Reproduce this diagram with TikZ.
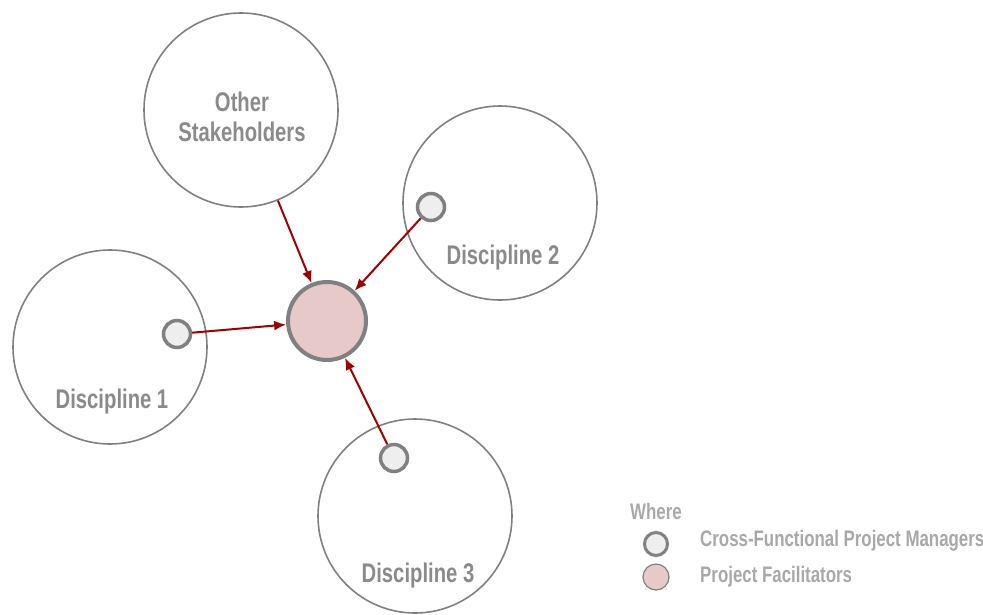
\documentclass[tikz,border=0pt]{standalone}
\usepackage{fontspec}
\setmainfont{Liberation Sans}[FakeStretch=0.75]
\usepackage{xcolor}
\usetikzlibrary{arrows.meta,positioning}
\definecolor{ringgray}{HTML}{808080}
\definecolor{labelgray}{HTML}{8A8A8A}
\definecolor{legendgray}{HTML}{A8A8A8}
\definecolor{hubpink}{HTML}{E8C9CA}
\definecolor{pmfill}{HTML}{EEEEEE}
\definecolor{arrred}{HTML}{A00000}

\begin{document}
\begin{tikzpicture}[x=1pt, y=-1pt, font=\bfseries, every node/.style={inner sep=0pt}]
        \tikzset{
            group/.style={draw=ringgray, circle, line width=1.6pt, minimum size=194pt},
            hub/.style={draw=ringgray, circle, fill=hubpink, line width=4pt, minimum size=78pt},
            pm/.style={draw=ringgray, circle, fill=pmfill, line width=3.5pt, minimum size=27pt},
            lbl/.style={text=labelgray, font=\fontsize{27}{30}\selectfont\bfseries, align=center},
            leg/.style={text=legendgray, font=\fontsize{22.5}{24}\selectfont\bfseries, anchor=west},
            arr/.style={-{Latex[length=12pt,width=10pt]}, draw=arrred, line width=2pt}
        }
        \useasboundingbox (0,0) rectangle (983,614);

        % Groups
        \node[group] (other) at (241,110) {};
        \node[group] (disc2) at (500,203) {};
        \node[group] (disc1) at (110,347) {};
        \node[group] (disc3) at (415,516) {};

        \node[lbl] at (242,117) {Other\\Stakeholders};
        \node[lbl] at (503,258) {Discipline 2};
        \node[lbl] at (112,402) {Discipline 1};
        \node[lbl] at (418,576) {Discipline 3};

        % Facilitator and project managers
        \node[hub] (fac) at (327,321) {};
        \node[pm] (pm1) at (177,334) {};
        \node[pm] (pm2) at (431,207) {};
        \node[pm] (pm3) at (394,458) {};

        \draw[arr] (other) -- (fac);
        \draw[arr] (pm1) -- (fac);
        \draw[arr] (pm2) -- (fac);
        \draw[arr] (pm3) -- (fac);

        % Legend
        \node[leg] (where) at (630,511) {Where};
        \node[pm, minimum size=23pt, line width=3pt] (legpm) at (656,544) {};
        \node[draw=ringgray, circle, fill=hubpink, line width=1.2pt, minimum size=26pt] (legfac) at (656,577) {};
        \node[leg] at (700,541) {Cross-Functional Project Managers};
        \node[leg] at (700,577) {Project Facilitators};
    \end{tikzpicture}
\end{document}
